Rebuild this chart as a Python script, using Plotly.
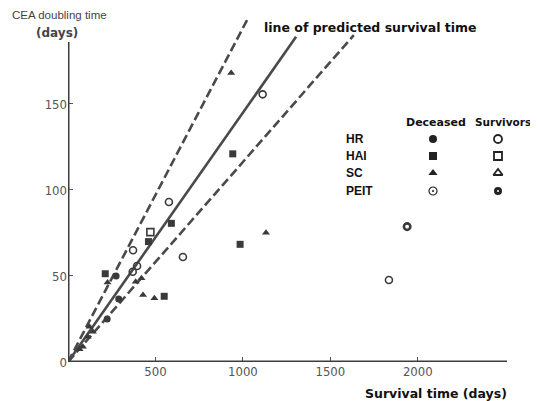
import plotly.graph_objects as go

# ---------------- data ----------------
hr_dec_x = [275, 290, 224]
hr_dec_y = [50, 36.6, 25]
hr_surv_x = [1113, 577, 372, 657, 395, 370, 1835]
hr_surv_y = [155.6, 93, 65, 61, 55.8, 52.5, 47.7]
hai_dec_x = [942, 984, 591, 460, 213, 550]
hai_dec_y = [121, 68.4, 80.6, 70, 51.3, 38.2]
hai_surv_x = [471]
hai_surv_y = [75.5]
sc_dec_x = [933, 1132, 226, 420, 387, 429, 494, 142, 113, 85, 66, 123]
sc_dec_y = [168, 75.2, 46.2, 48.7, 46.7, 39, 37, 17.6, 14.7, 8.9, 7.4, 20.5]
peit_surv_x = [1939]
peit_surv_y = [78.7]

# ratio survival time / doubling time for the three lines
ratio_solid = 6.9
ratio_upper = 5.15
ratio_lower = 8.6
line_top_solid = 189
line_top_upper = 200
line_top_lower = 190

x_ticks = [500, 1000, 1500, 2000]
y_ticks = [0, 50, 100, 150]

legend_rows = ["HR", "HAI", "SC", "PEIT"]
legend_cols = ["Deceased", "Survivors"]
legend_dec_symbols = ["circle", "square", "triangle-up", "circle-open-dot"]
legend_surv_symbols = ["circle-open", "square-open", "triangle-up-open", "circle-open"]

# ---------------- layout constants ----------------
OFF = 8  # default page body margin
W, H = 538 - OFF, 401 - OFF
L, R, T, B = 68 - OFF, 31, 9 - OFF, 39
PW, PH = W - L - R, H - T - B
X_MAX, Y_MAX = 2510, 205.2
INK = "#3a3a3a"
BOLD_WIDE = "DejaVu Sans, Verdana, sans-serif"
BOLD_STD = "Liberation Sans, Arial, sans-serif"


def pxx(px):
    return (px - OFF - L) / PW


def pxy(py):
    return (H - B - (py - OFF)) / PH


fig = go.Figure()

# lines
for ratio, top, dash in [(ratio_upper, line_top_upper, "dash"),
                         (ratio_solid, line_top_solid, "solid"),
                         (ratio_lower, line_top_lower, "dash")]:
    fig.add_trace(go.Scatter(x=[0, top * ratio], y=[0, top], mode="lines",
                             line=dict(color="#4a4a4a", width=2.6,
                                       dash="9px,4px" if dash == "dash" else "solid"),
                             hoverinfo="skip", showlegend=False, cliponaxis=False))


def pts(x, y, symbol, size, color=INK, lw=0, lc=INK):
    fig.add_trace(go.Scatter(x=x, y=y, mode="markers", showlegend=False, cliponaxis=False,
                             marker=dict(symbol=symbol, size=size, color=color,
                                         line=dict(width=lw, color=lc))))


pts(hr_dec_x, hr_dec_y, "circle", 7)
pts(hr_surv_x, hr_surv_y, "circle-open", 7, lw=1.6, lc="#555")
pts(hai_dec_x, hai_dec_y, "square", 7)
pts(hai_surv_x, hai_surv_y, "square-open", 7, lw=1.6, lc="#555")
pts(sc_dec_x, sc_dec_y, "triangle-up", 7)
pts(peit_surv_x, peit_surv_y, "circle-open", 6.5, lw=2.6, lc="#111")

# legend glyphs on an overlay axis measured in reference pixels
leg_x_dec, leg_x_surv = 433, 498
leg_row_y = [139, 156, 173, 191]
for sym_list, lx in [(legend_dec_symbols, leg_x_dec), (legend_surv_symbols, leg_x_surv)]:
    for i, sym in enumerate(sym_list):
        open_ = "open" in sym
        size = 8
        lw = 1.8
        if sym == "circle-open" and legend_rows[i] == "PEIT":
            size, lw = 5, 3
        if sym == "circle-open-dot":
            lw = 1.2
        fig.add_trace(go.Scatter(x=[lx], y=[leg_row_y[i]], xaxis="x2", yaxis="y2", mode="markers",
                                 showlegend=False, hoverinfo="skip",
                                 marker=dict(symbol=sym, size=size, color="#222",
                                             line=dict(width=lw if open_ else 0, color="#222"))))

# axes lines
fig.add_shape(type="line", x0=0, y0=0, x1=X_MAX, y1=0, xref="x", yref="y",
              line=dict(color="#3c3c3c", width=3))
fig.add_shape(type="line", x0=0, y0=0, x1=0, y1=186, xref="x", yref="y",
              line=dict(color="#3c3c3c", width=3))

tick_font = dict(family="Liberation Sans Narrow, Arial Narrow, DejaVu Sans Condensed, sans-serif",
                 size=13, color="#555")
fig.update_layout(
    width=W, height=H, margin=dict(l=L, r=R, t=T, b=B, autoexpand=False),
    paper_bgcolor="white", plot_bgcolor="white",
    xaxis=dict(range=[0, X_MAX], tickvals=x_ticks, ticks="inside", ticklen=5, tickwidth=1.3,
               tickcolor="#555", showgrid=False, zeroline=False, showline=False,
               tickfont=tick_font, automargin=False),
    yaxis=dict(range=[0, Y_MAX], tickvals=y_ticks, ticks="inside", ticklen=5, tickwidth=1.3,
               tickcolor="#555", showgrid=False, zeroline=False, showline=False,
               tickfont=tick_font, automargin=False),
    xaxis2=dict(range=[L + OFF, W - R + OFF], overlaying="x", visible=False),
    yaxis2=dict(range=[H - B + OFF, T + OFF], overlaying="y", visible=False),
    font=dict(family=BOLD_STD),
)

ann = []
ann.append(dict(text="CEA doubling time", x=pxx(59), y=pxy(15),
                font=dict(size=11.5, color="#444", family=BOLD_STD)))
ann.append(dict(text="<b>(days)</b>", x=pxx(57), y=pxy(33),
                font=dict(size=12, color="#444", family=BOLD_WIDE)))
ann.append(dict(text="<b>line of predicted survival time</b>", x=pxx(262), y=pxy(27), xanchor="left",
                font=dict(size=12.5, color="#111", family=BOLD_WIDE)))
ann.append(dict(text="<b>Survival time (days)</b>", x=pxx(436), y=pxy(393),
                font=dict(size=12.5, color="#111", family=BOLD_WIDE)))
ann.append(dict(text="<b>" + legend_cols[0] + "</b>", x=pxx(436), y=pxy(122),
                font=dict(size=11, color="#111", family=BOLD_WIDE)))
ann.append(dict(text="<b>" + legend_cols[1] + "</b>", x=pxx(533), y=pxy(122), xanchor="right",
                font=dict(size=10.5, color="#111", family=BOLD_WIDE)))
for i, r in enumerate(legend_rows):
    ann.append(dict(text="<b>" + r + "</b>", x=pxx(344), y=pxy(leg_row_y[i]), xanchor="left",
                    font=dict(size=12, color="#111", family=BOLD_STD)))
for a in ann:
    a.setdefault("xanchor", "center")
    a.update(xref="paper", yref="paper", yanchor="middle", showarrow=False)
fig.update_layout(annotations=ann)

fig.write_html("out.html")
